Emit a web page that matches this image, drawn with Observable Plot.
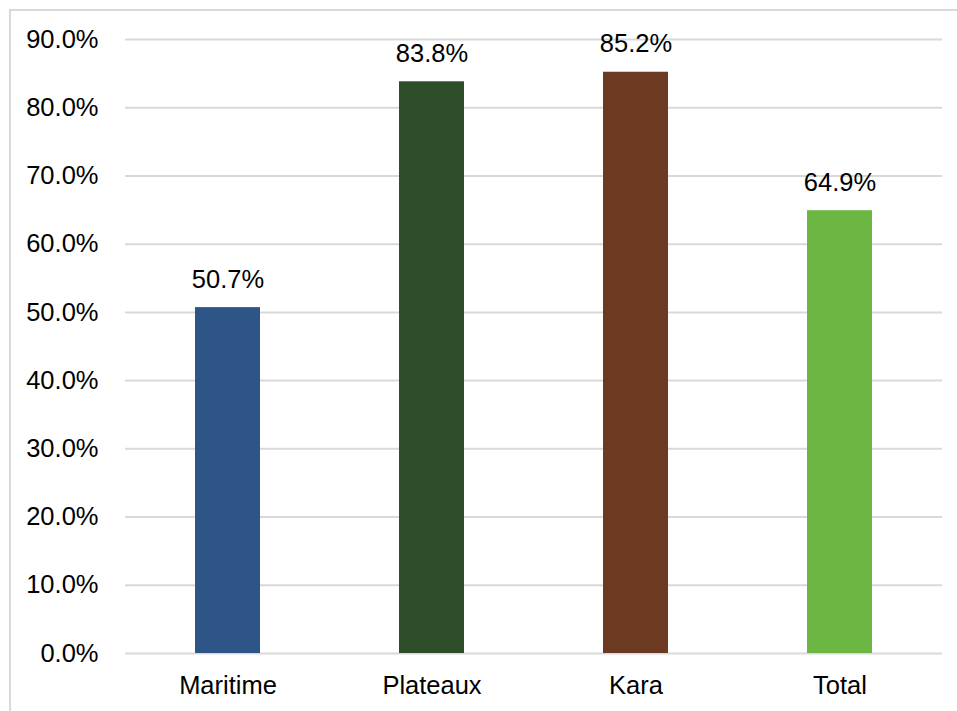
<!DOCTYPE html>
<html>
<head>
<meta charset="utf-8">
<script src="https://cdn.jsdelivr.net/npm/d3@7"></script>
<script src="https://cdn.jsdelivr.net/npm/@observablehq/plot@0.6"></script>
<style>
  html, body { margin: 0; padding: 0; background: #fff; }
  #wrap { position: relative; width: 957px; height: 711px; overflow: hidden; }
  #frame { position: absolute; left: 9px; top: 9px; width: 960px; height: 720px; border: 2px solid #d9d9d9; box-sizing: border-box; pointer-events: none; }
  #chart { position: absolute; left: 0; top: 0; }
  #chart svg text { font-family: "Liberation Sans", Arial, sans-serif; font-size: 25.5px; }
</style>
</head>
<body>
<div id="wrap"><div id="chart"></div><div id="frame"></div></div>
<script>
const categories = ["Maritime", "Plateaux", "Kara", "Total"];
const values = [50.7, 83.8, 85.2, 64.9];
const colors = ["#2E5588", "#2E4E2A", "#6C3A22", "#6CB644"];
const yTicks = [0, 10, 20, 30, 40, 50, 60, 70, 80, 90];

const data = categories.map((c, i) => ({category: c, value: values[i], color: colors[i]}));

const chart = Plot.plot({
  width: 957,
  height: 711,
  marginLeft: 125,
  marginRight: 15,
  marginTop: 39,
  marginBottom: 58,
  style: {fontFamily: "Liberation Sans, Arial, sans-serif", fontSize: "25.5px", color: "#000", background: "transparent"},
  x: {domain: categories, paddingInner: 0.68, paddingOuter: 0.34, label: null},
  y: {domain: [0, 90], label: null},
  marks: [
    Plot.gridY(yTicks, {stroke: "#d9d9d9", strokeOpacity: 1, strokeWidth: 2}),
    Plot.barY(data, {x: "category", y: "value", fill: "color"}),
    Plot.axisY(yTicks, {tickSize: 0, tickPadding: 27, tickFormat: d => d.toFixed(1) + "%", fontSize: 25.5, fill: "#000"}),
    Plot.axisX({tickSize: 0, tickPadding: 22, fontSize: 25.5, fill: "#000"}),
    Plot.text(data, {x: "category", y: "value", text: d => d.value.toFixed(1) + "%", lineAnchor: "bottom", dy: -20, fontSize: 25.5, fill: "#000"})
  ]
});
document.getElementById("chart").appendChild(chart);
</script>
</body>
</html>
